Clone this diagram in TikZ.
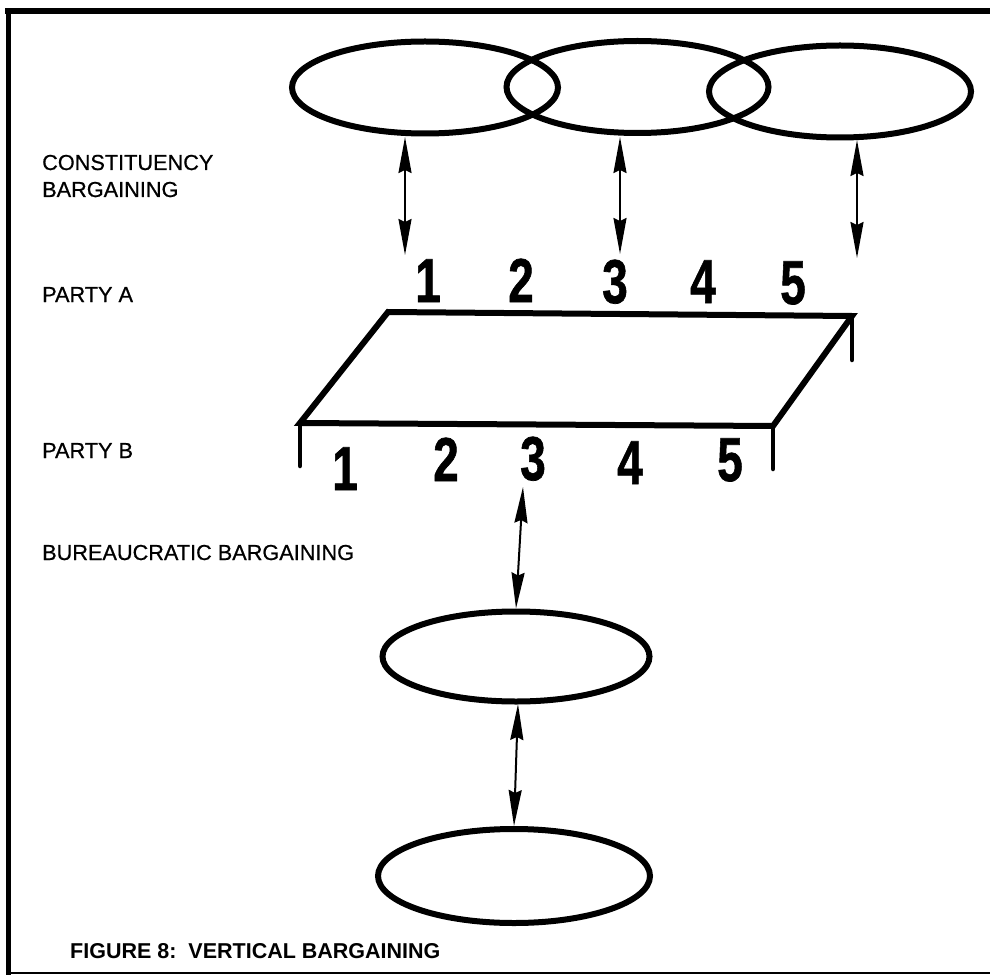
\documentclass[tikz,border=0pt]{standalone}
\usepackage{fontspec}
\setmainfont{Liberation Sans}
\newfontfamily\lblfont[FakeBold=0.7]{Liberation Sans}
\newfontfamily\numfont[FakeBold=1.2]{Liberation Sans Bold}
\usetikzlibrary{shapes.geometric,arrows.meta}
\begin{document}
\begin{tikzpicture}[x=1pt,y=-1pt,
  group/.style={draw,ellipse,line width=6pt,inner sep=0pt},
  link/.style={line width=2pt,{Stealth[length=36pt,width=13pt,inset=3pt]}-{Stealth[length=36pt,width=13pt,inset=3pt]}},
  plane/.style={line width=6pt,line join=miter},
  tick/.style={line width=4.5pt,line cap=round},
  lbl/.style={anchor=base west,inner sep=0pt,font=\lblfont\fontsize{21.7}{24}\selectfont},
  num/.style={anchor=base,inner sep=0pt,font=\numfont\fontsize{62}{62}\selectfont,xscale=0.74},
  frame/.style={line width=5pt}]
\useasboundingbox (0,0) rectangle (990,976);
% frame
\draw[line width=6pt] (5,11.5) -- (990,11.5);
\draw[frame] (8,9) -- (8,975);
\draw[line width=2.5pt] (6,973) -- (990,973);
% constituency ellipses
\node[group,minimum width=266pt,minimum height=92pt] (c1) at (425,87.5) {};
\node[group,minimum width=262pt,minimum height=92pt] (c2) at (637.5,87) {};
\node[group,minimum width=262pt,minimum height=92pt] (c3) at (840,91.5) {};
% bureaucratic ellipses
\node[group,minimum width=267pt,minimum height=90pt] (b1) at (516,656.5) {};
\node[group,minimum width=272pt,minimum height=94pt] (b2) at (514,876) {};
% parallelogram
\coordinate (pTL) at (388,312);
\coordinate (pTR) at (852,316);
\coordinate (pBR) at (773,426);
\coordinate (pBL) at (300,423);
\draw[plane] (pTL) -- (pTR) -- (pBR) -- (pBL) -- cycle;
\coordinate (tA) at (852,360);
\coordinate (tB) at (300,466);
\coordinate (tC) at (773,469);
\draw[tick] (pTR) -- (tA);
\draw[tick] (pBL) -- (tB);
\draw[tick] (pBR) -- (tC);
% labels
\node[lbl] (l1) at (42,170) {CONSTITUENCY};
\node[lbl] (l2) at (42,197) {BARGAINING};
\node[lbl] (l3) at (42,302) {PARTY A};
\node[lbl] (l4) at (42,458) {PARTY B};
\node[lbl] (l5) at (42,560) {BUREAUCRATIC BARGAINING};
\node[lbl,font=\fontsize{21.5}{24}\selectfont\bfseries] (cap) at (70,958) {FIGURE 8:\ \ VERTICAL BARGAINING};
% party A numbers
\node[num] (a1) at (428,302) {1};
\node[num] (a2) at (521,302) {2};
\node[num] (a3) at (615,303) {3};
\node[num] (a4) at (703,303) {4};
\node[num] (a5) at (793,304) {5};
% party B numbers
\node[num] (n1) at (345,490) {1};
\node[num] (n2) at (446,481) {2};
\node[num] (n3) at (533,480) {3};
\node[num] (n4) at (630,484) {4};
\node[num] (n5) at (730,481) {5};
% connector ends
\coordinate (e1) at (405,137);
\coordinate (f1) at (405,255);
\coordinate (e2) at (620,137);
\coordinate (f2) at (620,254);
\coordinate (e3) at (857,140);
\coordinate (f3) at (857,258);
\coordinate (g1) at (523,487);
\coordinate (h1) at (518,704);
\draw[link] (e1) -- (f1);
\draw[link] (e2) -- (f2);
\draw[link] (e3) -- (f3);
\draw[link] (g1) -- (b1.north);
\draw[link] (h1) -- (b2.north);
\end{tikzpicture}
\end{document}
